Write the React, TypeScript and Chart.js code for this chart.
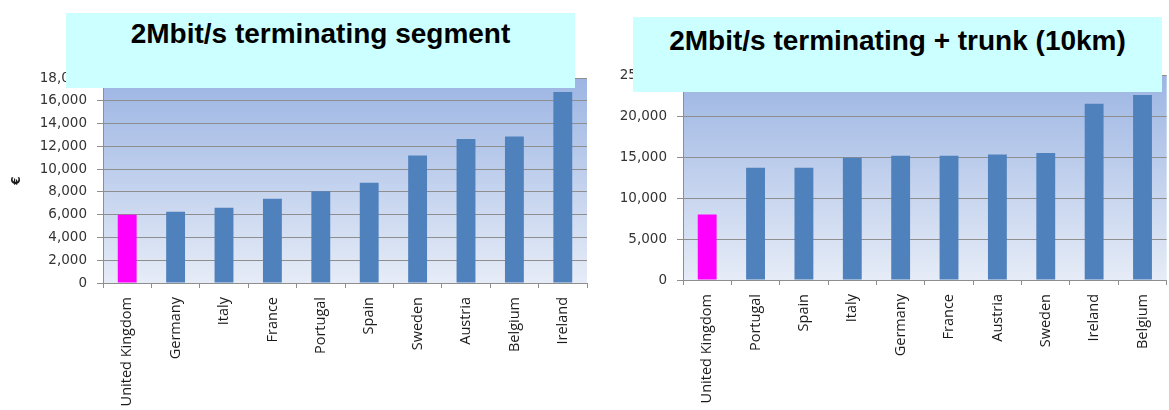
import React, { useEffect, useRef } from "react";
import { Chart, registerables } from "chart.js";

Chart.register(...registerables);

// Annual cost of a 2Mbit/s terminating segment, € per country
const segmentCountries = ["United Kingdom", "Germany", "Italy", "France", "Portugal", "Spain", "Sweden", "Austria", "Belgium", "Ireland"];
const segmentCosts = [6000, 6250, 6600, 7400, 8050, 8800, 11200, 12650, 12870, 16780];
const segmentTitle = "2Mbit/s terminating segment";
const segmentAxis = { max: 18000, step: 2000 };

// Annual cost of a 2Mbit/s terminating segment plus 10km of trunk, € per country
const trunkCountries = ["United Kingdom", "Portugal", "Spain", "Italy", "Germany", "France", "Austria", "Sweden", "Ireland", "Belgium"];
const trunkCosts = [8000, 13700, 13700, 14900, 15150, 15150, 15300, 15500, 21490, 22570];
const trunkTitle = "2Mbit/s terminating + trunk (10km)";
const trunkAxis = { max: 25000, step: 5000 };

const highlightCountry = "United Kingdom";
const BAR_BLUE = "#4f81bd";
const BAR_PINK = "#ff00ff";
const GRID = "#8e8e8e";

// Fills the plot area with a vertical blue gradient
const plotBackground = {
  id: "plotBackground",
  beforeDraw(chart: any) {
    const { ctx, chartArea: a } = chart;
    if (!a) return;
    const g = ctx.createLinearGradient(0, a.top, 0, a.bottom);
    g.addColorStop(0, "#9cb5e3");
    g.addColorStop(1, "#e6ecf7");
    ctx.save();
    ctx.fillStyle = g;
    ctx.fillRect(a.left, a.top, a.right - a.left, a.bottom - a.top);
    ctx.restore();
  },
};

type PanelProps = {
  labels: string[];
  values: number[];
  max: number;
  step: number;
  yTitle?: string;
  left: number;
  width: number;
  axisWidth: number;
  padTop: number;
  padRight: number;
  axisHeight: number;
  barPct: number;
};

function CostPanel(p: PanelProps) {
  const ref = useRef<HTMLCanvasElement | null>(null);
  useEffect(() => {
    if (!ref.current) return;
    const chart = new Chart(ref.current, {
      type: "bar",
      data: {
        labels: p.labels,
        datasets: [
          {
            data: p.values,
            backgroundColor: p.labels.map((c) => (c === highlightCountry ? BAR_PINK : BAR_BLUE)),
            borderWidth: 0,
            barPercentage: p.barPct,
            categoryPercentage: 1,
          },
        ],
      },
      options: {
        responsive: false,
        animation: false,
        layout: { padding: { top: p.padTop, right: p.padRight, left: 0, bottom: 0 } },
        plugins: { legend: { display: false }, tooltip: { enabled: false }, title: { display: false } },
        scales: {
          x: {
            grid: { display: true, drawOnChartArea: false, drawTicks: true, tickLength: 5, color: GRID, offset: true },
            border: { color: GRID },
            ticks: {
              minRotation: 90,
              maxRotation: 90,
              autoSkip: false,
              padding: 9,
              color: "#1a1a1a",
              font: { family: "Open Sans", size: 14.5 },
            },
            afterFit: (s: any) => {
              s.height = p.axisHeight;
            },
          },
          y: {
            min: 0,
            max: p.max,
            grid: { color: GRID, tickLength: 6, drawTicks: true },
            border: { color: GRID },
            ticks: {
              stepSize: p.step,
              padding: 10,
              color: "#333333",
              font: { family: "DejaVu Sans", size: 13.5 },
              callback: (v: any) => Number(v).toLocaleString("en-US"),
            },
            title: p.yTitle
              ? { display: true, text: p.yTitle, color: "#1a1a1a", font: { family: "DejaVu Sans", size: 12, weight: "bold" }, padding: { top: 10, bottom: 0 } }
              : { display: false },
            afterFit: (s: any) => {
              s.width = p.axisWidth;
            },
          },
        },
      },
      plugins: [plotBackground],
    } as any);
    return () => chart.destroy();
  }, []);
  return (
    <canvas
      ref={ref}
      width={p.width}
      height={410}
      style={{ position: "absolute", left: p.left, top: 0, width: p.width, height: 410 }}
    />
  );
}

const titleStyle: React.CSSProperties = {
  position: "absolute",
  background: "#ccffff",
  fontFamily: "'Liberation Sans', Arial, sans-serif",
  fontWeight: "bold",
  fontSize: 28,
  lineHeight: "28px",
  color: "#000",
  textAlign: "center",
  boxSizing: "border-box",
  whiteSpace: "nowrap",
};

export default function App() {
  return (
    <div style={{ position: "absolute", left: 0, top: 0, width: 1169, height: 410, background: "#fff", overflow: "hidden" }}>
      <CostPanel
        labels={segmentCountries}
        values={segmentCosts}
        max={segmentAxis.max}
        step={segmentAxis.step}
        yTitle="€"
        left={0}
        width={590}
        axisWidth={103}
        padTop={78}
        padRight={3}
        axisHeight={127}
        barPct={0.39}
      />
      <CostPanel
        labels={trunkCountries}
        values={trunkCosts}
        max={trunkAxis.max}
        step={trunkAxis.step}
        left={590}
        width={579}
        axisWidth={93}
        padTop={75}
        padRight={2}
        axisHeight={130}
        barPct={0.39}
      />
      <div style={{ ...titleStyle, left: 66, top: 13, width: 509, height: 75, paddingTop: 7 }}>{segmentTitle}</div>
      <div style={{ ...titleStyle, left: 633, top: 17, width: 529, height: 75, paddingTop: 10 }}>{trunkTitle}</div>
    </div>
  );
}
